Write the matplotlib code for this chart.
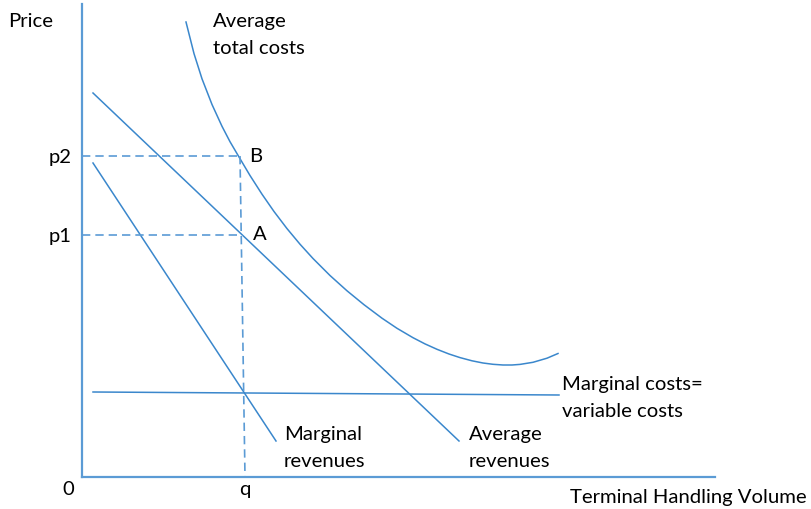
import matplotlib
matplotlib.use("Agg")
import matplotlib.pyplot as plt

plt.rcParams['font.family'] = ['Lato', 'DejaVu Sans']

# Data (units: horizontal = handling volume, vertical = price)
ar_x = [11, 377]
ar_y = [384, 36]
mr_x = [11, 194]
mr_y = [314, 36]
mc_x = [11, 477]
mc_y = [85, 82]
atc_x = [104, 112, 120, 130, 140, 148, 157, 168, 180, 192, 205, 218, 231, 248,
         265, 282, 300, 315, 331, 343, 355, 367, 378, 390, 401, 411, 421, 430,
         438, 451, 465, 476]
atc_y = [455, 423.4, 398.2, 372.5, 350.7, 335.3, 320, 301.5, 282.8, 265.5,
         248.4, 232.8, 218.5, 201.5, 186.2, 172.3, 158.8, 148.7, 139.3, 133.1,
         127.7, 123, 119.4, 116.2, 114, 112.7, 112, 112, 112.6, 114.7, 118.8,
         123.5]
p_labels = ['p2', 'p1']
p_values = [321, 242]
p_ends = [158, 161]
q_value = 163
q_top = 158
point_labels = ['B', 'A']

line_c = '#3A87CC'
axis_c = '#5B9BD5'
FS = 14.6

fig = plt.figure(figsize=(8.12, 5.10), dpi=100)
ax = fig.add_axes([82/812, 32/510, 633/812, 473/510])
ax.set_xlim(0, 633)
ax.set_ylim(0, 473)
for s in ['top', 'right']:
    ax.spines[s].set_visible(False)
for s in ['left', 'bottom']:
    ax.spines[s].set_color(axis_c)
    ax.spines[s].set_linewidth(1.6)
ax.set_xticks([])
ax.set_yticks([])

lw = 1.1
ax.plot(ar_x, ar_y, color=line_c, lw=lw)
ax.plot(mr_x, mr_y, color=line_c, lw=lw)
ax.plot(mc_x, mc_y, color=line_c, lw=lw)
ax.plot(atc_x, atc_y, color=line_c, lw=lw)

dash = dict(color=axis_c, lw=1.2, ls=(0, (5, 3)))
for v, e in zip(p_values, p_ends):
    ax.plot([0, e], [v, v], **dash)
ax.plot([q_top, q_value], [p_values[0], 0], **dash)

def txt(x, y, lines, ha='left'):
    for i, l in enumerate(lines):
        ax.text(x, y - i * 27, l, ha=ha, va='baseline', fontsize=FS,
                color='black', clip_on=False)

txt(-74, 451, ['Price'])
txt(131, 451, ['Average', 'total costs'])
for lab, v in zip(p_labels, p_values):
    txt(-10, v - 6, [lab], ha='right')
txt(167, 316, [point_labels[0]])
txt(171, 238, [point_labels[1]])
txt(480, 88, ['Marginal costs=', 'variable costs'])
txt(387, 38, ['Average', 'revenues'])
txt(202, 38, ['Marginal', 'revenues'])
txt(488, -25, ['Terminal Handling Volume'])
txt(-14, -17, ['0'], ha='center')
txt(q_value, -17, ['q'], ha='center')

fig.savefig('out.png', dpi=100)
